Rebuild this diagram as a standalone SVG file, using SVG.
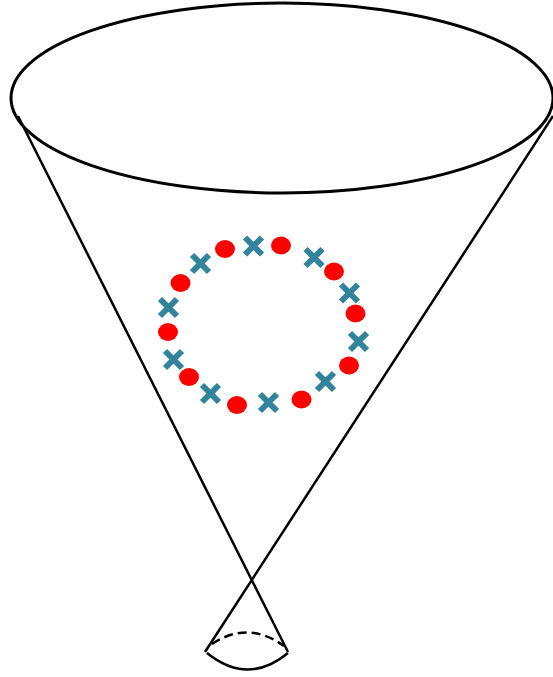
<svg xmlns="http://www.w3.org/2000/svg" width="553" height="677" viewBox="0 0 553 677">
<style>
.ln{fill:none;stroke:#000;stroke-width:2.5}
.dot{fill:#FF0000}
.x{stroke:#31849B;stroke-width:6;fill:none}
</style>
<defs>
<g id="xm"><path class="x" d="M-8.5,-8.5L8.5,8.5M8.5,-8.5L-8.5,8.5"/></g>
</defs>
<rect width="553" height="677" fill="#fff"/>
<g id="cone">
<path class="ln" d="M18,116L288,652M553,116L205,652"/>
<ellipse cx="282" cy="98" rx="271" ry="95" fill="none" stroke="#000" stroke-width="3"/>
<path class="ln" d="M207,653Q248,686 288,653"/>
<path class="ln" d="M212,644Q248,620 284,646" stroke-dasharray="9,5"/>
</g>
<g id="ring">
<ellipse class="dot" cx="225" cy="249" rx="10" ry="9"/>
<ellipse class="dot" cx="281" cy="245.5" rx="10" ry="9"/>
<ellipse class="dot" cx="334" cy="271.5" rx="10" ry="9"/>
<ellipse class="dot" cx="355.5" cy="313.5" rx="10" ry="9"/>
<ellipse class="dot" cx="349" cy="365.5" rx="10" ry="9"/>
<ellipse class="dot" cx="301.5" cy="399.5" rx="10" ry="9"/>
<ellipse class="dot" cx="237" cy="405" rx="10" ry="9"/>
<ellipse class="dot" cx="189" cy="377" rx="10" ry="9"/>
<ellipse class="dot" cx="168" cy="332" rx="10" ry="9"/>
<ellipse class="dot" cx="180.5" cy="283" rx="10" ry="9"/>
<use href="#xm" x="200.5" y="263.5"/>
<use href="#xm" x="253.5" y="246"/>
<use href="#xm" x="314" y="257.5"/>
<use href="#xm" x="349.5" y="293"/>
<use href="#xm" x="358.5" y="341.5"/>
<use href="#xm" x="325.5" y="381.5"/>
<use href="#xm" x="268.5" y="402.5"/>
<use href="#xm" x="210.5" y="393.5"/>
<use href="#xm" x="173.5" y="359.5"/>
<use href="#xm" x="168.5" y="307.5"/>
</g>
</svg>
